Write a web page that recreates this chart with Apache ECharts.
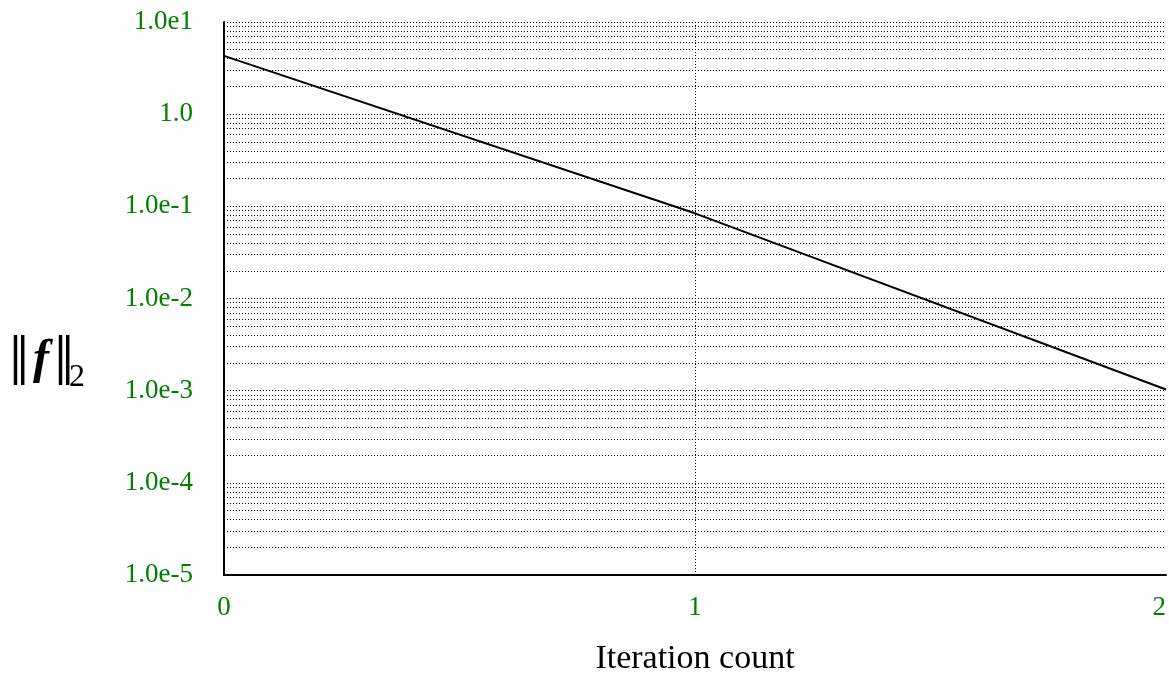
<!DOCTYPE html>
<html>
<head>
<meta charset="utf-8">
<script src="https://cdn.jsdelivr.net/npm/echarts@6/dist/echarts.min.js"></script>
<style>
html,body{margin:0;padding:0;background:#fff;}
#chart{width:1169px;height:681px;}
</style>
</head>
<body>
<div id="chart"></div>
<script>
// Data
const iterations = [0, 1, 2];
const residualNorm = [4.29, 0.084, 0.00103];
const yTickValues = [1e-5, 1e-4, 1e-3, 1e-2, 1e-1, 1, 10];
const yTickLabels = ['1.0e-5', '1.0e-4', '1.0e-3', '1.0e-2', '1.0e-1', '1.0', '1.0e1'];
const xTickValues = [0, 1, 2];
const xTickLabels = ['0', '1', '2'];
const xGridValues = [0, 1];
const minorDecades = [-5, -4, -3, -2, -1, 0];
const minorMultipliers = [2, 3, 4, 5, 6, 7, 8, 9];

const yGridValues = yTickValues.slice();
minorDecades.forEach(function (e) {
  minorMultipliers.forEach(function (m) {
    yGridValues.push(m * Math.pow(10, e));
  });
});
yGridValues.sort(function (a, b) { return a - b; });

const GREEN = '#008000';
const FONT = '"Liberation Serif", "Times New Roman", serif';

function labelFor(values, labels, v) {
  let best = 0, bestD = Infinity;
  values.forEach(function (t, i) {
    const d = Math.abs(Math.log10(Math.abs(t) + 1e-12) - Math.log10(Math.abs(v) + 1e-12));
    if (d < bestD) { bestD = d; best = i; }
  });
  return labels[best];
}

const chart = echarts.init(document.getElementById('chart'), null, {renderer: 'canvas'});
chart.setOption({
  animation: false,
  backgroundColor: '#fff',
  grid: {left: 224, right: 0, top: 22, bottom: 104, containLabel: false},
  xAxis: {
    type: 'value',
    min: 0, max: 2, interval: 1,
    axisLine: {show: true, onZero: false, lineStyle: {color: '#000', width: 2}},
    axisTick: {show: false, customValues: xGridValues},
    axisLabel: {
      color: GREEN, fontFamily: FONT, fontSize: 27, margin: 19,
      alignMaxLabel: 'right',
      customValues: xTickValues,
      formatter: function (v) { return xTickLabels[xTickValues.indexOf(Math.round(v))]; }
    },
    splitLine: {show: true, lineStyle: {color: '#000', width: 1, type: [1, 2]}},
    name: 'Iteration count',
    nameLocation: 'middle',
    nameGap: 67,
    nameTextStyle: {color: '#000', fontFamily: FONT, fontSize: 34}
  },
  yAxis: {
    type: 'log',
    logBase: 10,
    min: 1e-5, max: 10, interval: 1,
    axisLine: {show: true, lineStyle: {color: '#000', width: 2}},
    axisTick: {show: false, customValues: yGridValues},
    axisLabel: {
      color: GREEN, fontFamily: FONT, fontSize: 27, margin: 31,
      customValues: yTickValues,
      formatter: function (v) { return labelFor(yTickValues, yTickLabels, v); }
    },
    splitLine: {show: true, lineStyle: {color: '#000', width: 1, type: [1, 2]}}
  },
  graphic: [{
    type: 'group',
    silent: true,
    children: [
      {type: 'text', x: 19, y: 366, style: {text: '‖', font: '72px "Liberation Serif"', fill: '#000', align: 'center', verticalAlign: 'middle'}},
      {type: 'text', x: 41, y: 361, style: {text: 'f', font: 'italic bold 48px "Liberation Serif"', fill: '#000', align: 'center', verticalAlign: 'middle'}},
      {type: 'text', x: 64, y: 366, style: {text: '‖', font: '72px "Liberation Serif"', fill: '#000', align: 'center', verticalAlign: 'middle'}},
      {type: 'text', x: 69, y: 378, style: {text: '2', font: '32px "Liberation Serif"', fill: '#000', align: 'left', verticalAlign: 'middle'}}
    ]
  }],
  series: [{
    type: 'line',
    data: iterations.map(function (x, i) { return [x, residualNorm[i]]; }),
    symbol: 'none',
    lineStyle: {color: '#000', width: 2},
    silent: true,
    z: 3
  }]
});
</script>
</body>
</html>
